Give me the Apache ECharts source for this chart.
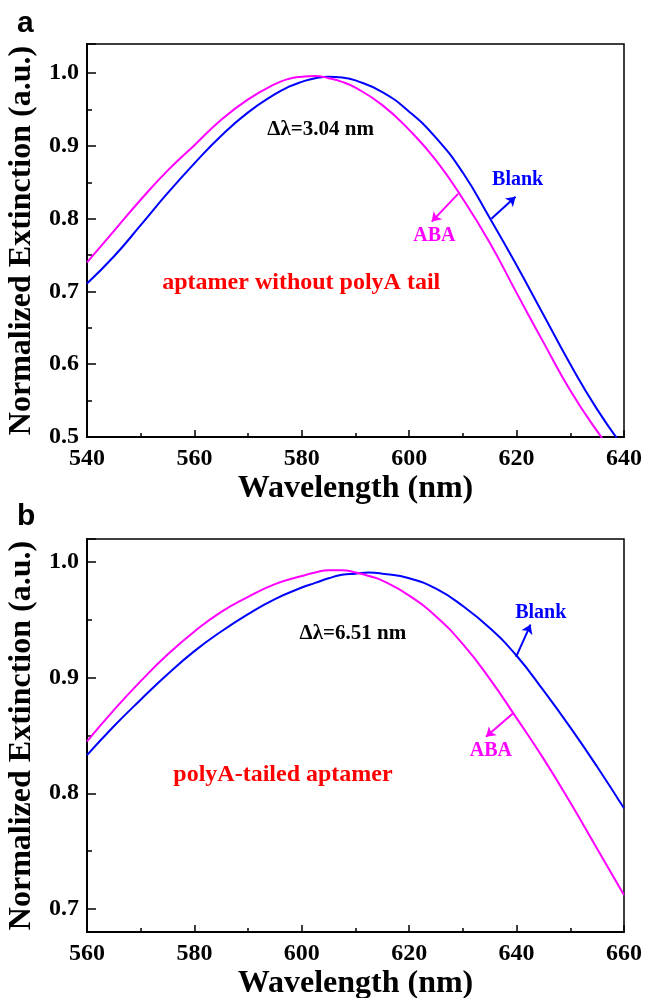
<!DOCTYPE html>
<html>
<head>
<meta charset="utf-8">
<script src="https://cdn.jsdelivr.net/npm/echarts@6/dist/echarts.min.js"></script>
<style>
  html, body { margin: 0; padding: 0; background: #fff; }
  #chart { width: 646px; height: 998px; }
</style>
</head>
<body>
<div id="chart"></div>
<script>
// panel a: aptamer without polyA tail (extra readings around the peak)
const waveA = [540, 545, 550, 555, 560, 565, 570, 575, 577.5, 580, 582.5, 585, 587.5, 590, 595, 600, 605, 610, 615, 620, 625, 630, 635, 640];
const blankA = [0.711, 0.748, 0.791, 0.835, 0.876, 0.914, 0.946, 0.971, 0.981, 0.988, 0.993, 0.995, 0.994, 0.990, 0.974, 0.947, 0.911, 0.863, 0.801, 0.736, 0.668, 0.600, 0.538, 0.485];
const abaA = [0.740, 0.783, 0.826, 0.866, 0.901, 0.936, 0.964, 0.985, 0.992, 0.995, 0.996, 0.993, 0.988, 0.980, 0.956, 0.922, 0.880, 0.827, 0.767, 0.698, 0.630, 0.564, 0.508, 0.458];

// panel b: polyA-tailed aptamer
const waveB = [560, 565, 570, 575, 580, 585, 590, 595, 600, 602.5, 605, 607.5, 610, 612.5, 615, 620, 625, 630, 635, 640, 645, 650, 655, 660];
const blankB = [0.833, 0.858, 0.881, 0.903, 0.923, 0.940, 0.955, 0.968, 0.978, 0.982, 0.986, 0.989, 0.990, 0.991, 0.990, 0.986, 0.977, 0.962, 0.943, 0.919, 0.889, 0.857, 0.823, 0.787];
const abaB = [0.845, 0.872, 0.897, 0.920, 0.940, 0.957, 0.970, 0.981, 0.988, 0.991, 0.993, 0.993, 0.991, 0.988, 0.984, 0.971, 0.953, 0.929, 0.899, 0.865, 0.830, 0.792, 0.752, 0.712];

const BLUE = '#0000ff';
const MAGENTA = '#ff00ff';
const RED = '#ff0000';
const SERIF = 'Liberation Serif';

function pairs(xs, ys) {
  return xs.map((x, i) => [x, ys[i]]);
}

function xAxisFor(idx, min, max) {
  return {
    gridIndex: idx,
    type: 'value',
    min: min,
    max: max,
    interval: 20,
    name: 'Wavelength (nm)',
    nameLocation: 'middle',
    nameGap: 36,
    nameTextStyle: { color: '#000', fontFamily: SERIF, fontWeight: 'bold', fontSize: 32 },
    axisLine: { lineStyle: { color: '#000', width: 2 } },
    axisTick: { inside: true, length: 7, lineStyle: { color: '#000', width: 1.5 } },
    minorTick: { show: true, splitNumber: 2, length: 4, lineStyle: { color: '#000', width: 1.5 } },
    axisLabel: { color: '#000', fontFamily: SERIF, fontWeight: 'bold', fontSize: 24, margin: 10 },
    splitLine: { show: false }
  };
}

// top panel uses a fixed step (min 0.5 is a multiple of it), bottom panel lets ECharts pick 0.1 from 0.7
function yAxisFor(idx, min, max, step) {
  const axis = {
    gridIndex: idx,
    type: 'value',
    min: min,
    max: max,
    name: 'Normalized Extinction (a.u.)',
    nameLocation: 'middle',
    nameGap: 43,
    nameTextStyle: { color: '#000', fontFamily: SERIF, fontWeight: 'bold', fontSize: 32 },
    axisLine: { lineStyle: { color: '#000', width: 2 } },
    axisTick: { inside: true, length: 9, lineStyle: { color: '#000', width: 1.5 } },
    minorTick: { show: true, splitNumber: 2, length: 5, lineStyle: { color: '#000', width: 1.5 } },
    axisLabel: {
      color: '#000', fontFamily: SERIF, fontWeight: 'bold', fontSize: 24, margin: 8,
      showMinLabel: step ? true : false, showMaxLabel: false,
      formatter: v => v.toFixed(1)
    },
    splitLine: { show: false }
  };
  if (step) axis.interval = step;
  else axis.splitNumber = 3;
  return axis;
}

function note(text, coord, color, size) {
  return {
    coord: coord,
    symbol: 'circle',
    symbolSize: 0,
    label: {
      show: true, position: 'inside', formatter: text,
      color: color, fontFamily: SERIF, fontWeight: 'bold', fontSize: size
    }
  };
}

function arrow(from, to, color) {
  return {
    silent: true,
    symbol: ['none', 'arrow'],
    symbolSize: 9,
    label: { show: false },
    lineStyle: { color: color, width: 2, type: 'solid' },
    data: [[{ coord: from }, { coord: to }]]
  };
}

function curve(idx, data, color, extra) {
  return Object.assign({
    type: 'line',
    xAxisIndex: idx,
    yAxisIndex: idx,
    data: data,
    smooth: true,
    showSymbol: false,
    lineStyle: { color: color, width: 2 },
    itemStyle: { color: color },
    clip: true
  }, extra || {});
}

const chart = echarts.init(document.getElementById('chart'), null, { renderer: 'canvas' });

chart.setOption({
  animation: false,
  backgroundColor: '#fff',
  grid: [
    { left: 87, right: 22, top: 44, height: 393, outerBoundsMode: 'none', show: true, borderColor: '#000', borderWidth: 1.5 },
    { left: 87, right: 22, top: 539, height: 393, outerBoundsMode: 'none', show: true, borderColor: '#000', borderWidth: 1.5 }
  ],
  xAxis: [xAxisFor(0, 540, 640), xAxisFor(1, 560, 660)],
  yAxis: [yAxisFor(0, 0.5, 1.04, 0.1), yAxisFor(1, 0.68, 1.02)],
  graphic: [
    { type: 'text', left: 17, top: 9, style: { text: 'a', font: 'bold 30px "Liberation Sans"', fill: '#000' } },
    { type: 'text', left: 17, top: 502, style: { text: 'b', font: 'bold 30px "Liberation Sans"', fill: '#000' } }
  ],
  series: [
    curve(0, pairs(waveA, blankA), BLUE, {
      markPoint: { data: [note('Blank', [620.2, 0.853], BLUE, 20)] },
      markLine: arrow([615.3, 0.800], [619.8, 0.830], BLUE)
    }),
    curve(0, pairs(waveA, abaA), MAGENTA, {
      markPoint: {
        data: [
          note('ABA', [604.7, 0.776], MAGENTA, 20),
          note('Δλ=3.04 nm', [583.5, 0.923], '#000', 21),
          note('aptamer without polyA tail', [579.9, 0.712], RED, 24)
        ]
      },
      markLine: arrow([609.1, 0.834], [604.2, 0.796], MAGENTA)
    }),
    curve(1, pairs(waveB, blankB), BLUE, {
      markPoint: { data: [note('Blank', [644.5, 0.956], BLUE, 20)] },
      markLine: arrow([639.9, 0.918], [642.6, 0.946], BLUE)
    }),
    curve(1, pairs(waveB, abaB), MAGENTA, {
      markPoint: {
        data: [
          note('ABA', [635.2, 0.837], MAGENTA, 20),
          note('Δλ=6.51 nm', [609.5, 0.938], '#000', 21),
          note('polyA-tailed aptamer', [596.5, 0.816], RED, 24)
        ]
      },
      markLine: arrow([639.3, 0.869], [634.3, 0.849], MAGENTA)
    })
  ]
});
</script>
</body>
</html>
